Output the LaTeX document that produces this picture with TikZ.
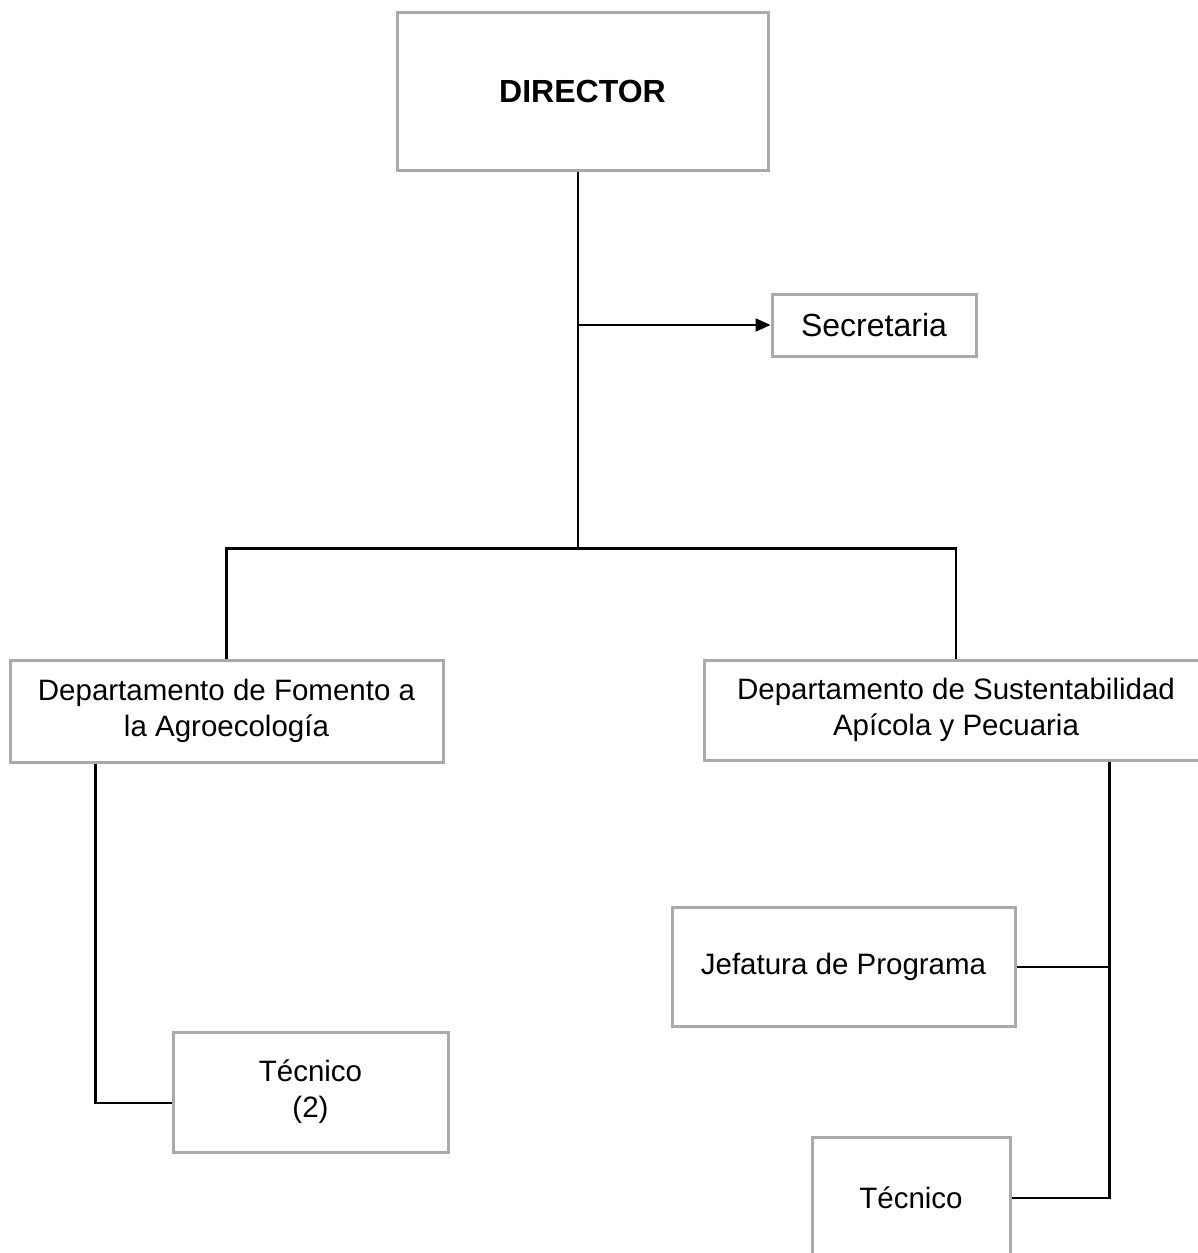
\documentclass[tikz,border=0pt]{standalone}
\usepackage{fontspec}
\setmainfont{Liberation Sans}
\usetikzlibrary{arrows.meta}

\definecolor{boxgray}{RGB}{170,170,170}
\tikzset{
    orgbox/.style={draw=boxgray, line width=3pt, fill=white, align=center, inner sep=0pt,
        font=\fontsize{29.5}{36}\selectfont},
    link/.style={line width=2.2pt, black}
}

\begin{document}
\begin{tikzpicture}[x=1pt, y=-1pt]
                \useasboundingbox (0,0) rectangle (1198,1253);
                \clip (0,0) rectangle (1198,1253);

                % 绘制方框
                \node[orgbox, minimum width=371pt, minimum height=158pt, font=\fontsize{32}{36}\selectfont\bfseries]
                    (dir) at (582.5,91) {DIRECTOR};
                \node[orgbox, minimum width=204pt, minimum height=62pt, font=\fontsize{32}{36}\selectfont]
                    (sec) at (874,325) {Secretaria};

                \node[orgbox, minimum width=433pt, minimum height=102pt] (deptA) at (226.5,711)
                    {Departamento de Fomento a\\la Agroecología};
                \node[orgbox, minimum width=504pt, minimum height=100pt] (deptB) at (956,710)
                    {Departamento de Sustentabilidad\\Apícola y Pecuaria};

                \node[orgbox, minimum width=275pt, minimum height=120pt] (tecA) at (310.5,1092) {Técnico\\(2)};
                \node[orgbox, minimum width=343pt, minimum height=119pt] (jef) at (843.5,967) {Jefatura de Programa};
                \node[orgbox, minimum width=198pt, minimum height=122pt] (tecB) at (911,1198) {Técnico};

                % 绘制连线
                \draw[link] ([xshift=-4.5pt]dir.south) -- ++(0,377) coordinate (split);
                \draw[link, -{Triangle[length=15pt, width=13pt]}] (split |- sec) -- (sec.west);
                \draw[link] (deptA.north) |- (split) -| (deptB.north);

                % 左侧分支
                \draw[link] (deptA.south west) ++(87,0) coordinate (la) -- (la |- 0,1103) -- ([yshift=-11pt]tecA.west);

                % 右侧分支
                \draw[link] (deptB.south west) ++(407,0) coordinate (rb) -- (rb |- tecB.east) -- (tecB.east);
                \draw[link] (jef.east) -- (rb |- jef.east);
            \end{tikzpicture}
\end{document}
